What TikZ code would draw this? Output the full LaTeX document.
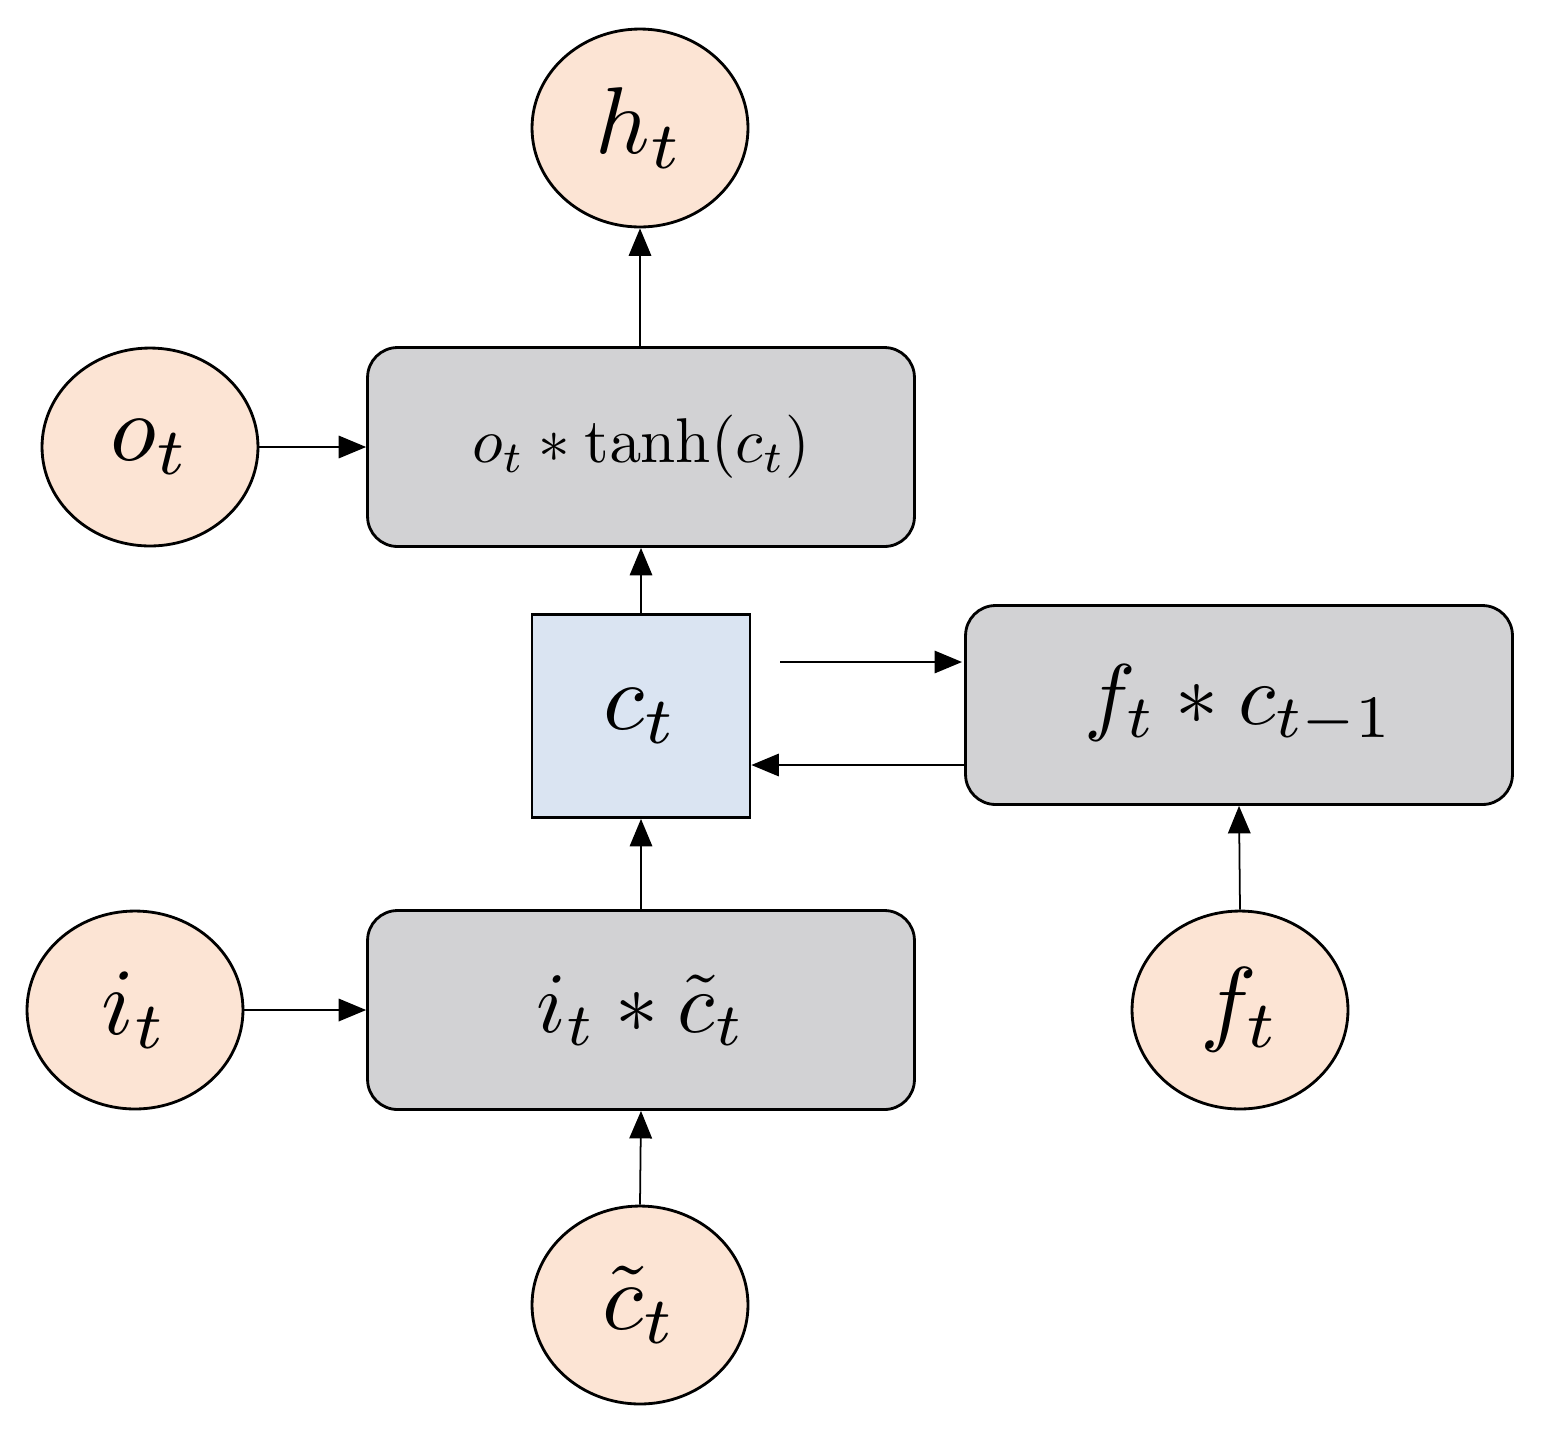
\documentclass[tikz,border=0pt]{standalone}
\usepackage{amsmath}
\usetikzlibrary{shapes.geometric,arrows.meta}
\newcommand{\bigtxt}[2]{\scalebox{#1}{$#2$}}
\begin{document}
\begin{tikzpicture}[x=0.02cm,y=-0.02cm,
  circ/.style={ellipse,draw,line width=1.6pt,fill={rgb,255:red,252;green,228;blue,212},minimum width=4.32cm,minimum height=3.96cm,inner sep=0pt},
  gbox/.style={draw,line width=1.6pt,rounded corners=0.6cm,fill={rgb,255:red,210;green,210;blue,212},minimum width=10.94cm,minimum height=3.98cm,inner sep=0pt},
  arr/.style={line width=1pt,-{Triangle[length=0.55cm,width=0.45cm]}}]
\useasboundingbox (0,0) rectangle (1545,1438);
\node[circ] (h) at (640,128) {\bigtxt{5.4}{h_t}};
\node[circ] (o) at (150,447) {\bigtxt{5.4}{o_t}};
\node[circ] (i) at (135,1010) {\bigtxt{5.4}{i_t}};
\node[circ] (f) at (1240,1010) {\bigtxt{5.4}{f_t}};
\node[circ] (ct) at (640,1305) {\bigtxt{5.4}{\tilde c_t}};
\node[gbox] (b1) at (641,447) {\bigtxt{3.6}{o_t * \tanh(c_t)}};
\node[gbox] (bf) at (1239,705) {\bigtxt{4.9}{f_t * c_{t-1}}};
\node[gbox] (bi) at (641,1010) {\bigtxt{4.9}{i_t * \tilde c_t}};
\node[draw,line width=1.6pt,fill={rgb,255:red,218;green,228;blue,242},minimum width=4.36cm,minimum height=4.06cm,inner sep=0pt] (c) at (641,716) {\bigtxt{5.4}{c_t}};
\coordinate (a1) at (780,662);
\coordinate (a2) at (962,662);
\draw[arr] (b1.north -| h.south) -- (h.south);
\draw[arr] (o.east) -- (b1.west);
\draw[arr] (c.north -| b1.south) -- (b1.south);
\draw[arr] (a1) -- (a2);
\draw[arr] (bf.west |- 0,765) -- (c.east |- 0,765);
\draw[arr] (f.north) -- (bf.south);
\draw[arr] (bi.north) -- (c.south -| bi.north);
\draw[arr] (ct.north) -- (bi.south);
\draw[arr] (i.east) -- (bi.west);
\end{tikzpicture}
\end{document}
